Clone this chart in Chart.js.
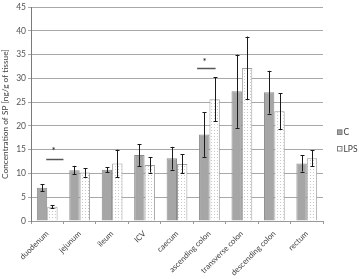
<!DOCTYPE html>
<html><head><meta charset="utf-8">
<script src="https://cdn.jsdelivr.net/npm/chart.js@4"></script>
<style>html,body{margin:0;padding:0;background:#fff;overflow:hidden}</style>
</head><body>
<canvas id="c" width="359" height="279"></canvas>
<script>
const categories = ['duodenum','jejunum','ileum','ICV','caecum','ascending colon','transverse colon','descending colon','rectum'];
const seriesC = [7.0, 10.7, 10.8, 13.9, 13.2, 18.2, 27.3, 27.1, 12.1];
const errorC = [0.7, 0.9, 0.5, 2.3, 2.4, 4.7, 7.7, 4.5, 1.7];
const seriesLPS = [3.0, 10.2, 12.1, 11.8, 12.0, 25.6, 32.2, 23.1, 13.2];
const errorLPS = [0.3, 0.9, 2.9, 1.6, 2.0, 4.6, 6.6, 3.8, 1.7];
const yTicks = [0, 5, 10, 15, 20, 25, 30, 35, 40, 45];
const significance = [
  {category: 'duodenum', lineValue: 13.0, starValue: 15.2, from: -0.03, to: 0.5, starAt: 0.2},
  {category: 'ascending colon', lineValue: 32.1, starValue: 34.0, from: -0.38, to: 0.19, starAt: -0.15}
];

function dotPattern() {
  const p = document.createElement('canvas');
  p.width = 3; p.height = 3;
  const g = p.getContext('2d');
  g.fillStyle = '#ffffff'; g.fillRect(0, 0, 3, 3);
  g.fillStyle = '#c8c8c8'; g.fillRect(1, 1, 1, 1);
  return g.createPattern(p, 'repeat');
}

const errorBarPlugin = {
  id: 'errorBars',
  afterDatasetsDraw(chart) {
    const ctx = chart.ctx, ys = chart.scales.y;
    const errs = [errorC, errorLPS];
    chart.data.datasets.forEach((ds, di) => {
      const meta = chart.getDatasetMeta(di);
      meta.data.forEach((el, i) => {
        const v = ds.data[i], e = errs[di][i];
        const yt = ys.getPixelForValue(v + e), yb = ys.getPixelForValue(v - e);
        const x = Math.round(el.x) + 0.5;
        ctx.save();
        ctx.strokeStyle = '#1a1a1a'; ctx.lineWidth = 1;
        ctx.beginPath();
        ctx.moveTo(x, yt); ctx.lineTo(x, yb);
        ctx.moveTo(x - 2, Math.round(yt) + 0.5); ctx.lineTo(x + 2, Math.round(yt) + 0.5);
        ctx.moveTo(x - 2, Math.round(yb) + 0.5); ctx.lineTo(x + 2, Math.round(yb) + 0.5);
        ctx.stroke();
        ctx.restore();
      });
    });
  }
};

const sigPlugin = {
  id: 'sig',
  afterDatasetsDraw(chart) {
    const ctx = chart.ctx, xs = chart.scales.x, ys = chart.scales.y;
    const cw = (xs.right - xs.left) / categories.length;
    significance.forEach(s => {
      const idx = categories.indexOf(s.category);
      const cx = xs.getPixelForValue(idx);
      const yl = Math.round(ys.getPixelForValue(s.lineValue)) + 0.5;
      ctx.save();
      ctx.strokeStyle = '#555'; ctx.lineWidth = 1.5;
      ctx.beginPath();
      ctx.moveTo(cx + s.from * cw, yl); ctx.lineTo(cx + s.to * cw, yl);
      ctx.stroke();
      ctx.fillStyle = '#222';
      ctx.font = '10px Lato';
      ctx.textAlign = 'center'; ctx.textBaseline = 'middle';
      ctx.fillText('*', cx + s.starAt * cw, ys.getPixelForValue(s.starValue) + 2);
      ctx.restore();
    });
  }
};

const legendPlugin = {
  id: 'sideLegend',
  afterDraw(chart) {
    const ctx = chart.ctx;
    const x0 = chart.width - 22;
    chart.data.datasets.forEach((ds, i) => {
      const y = 132 + i * 16.5;
      ctx.save();
      ctx.fillStyle = ds.backgroundColor;
      ctx.fillRect(x0, y - 2.5, 5, 5);
      ctx.strokeStyle = '#808080'; ctx.lineWidth = 1;
      ctx.strokeRect(x0 + 0.5, y - 2.5 + 0.5, 4.5, 4.5);
      ctx.fillStyle = '#404040';
      ctx.font = '8.5px Lato';
      ctx.textAlign = 'left'; ctx.textBaseline = 'middle';
      ctx.fillText(ds.label, x0 + 6.5, y + 0.5);
      ctx.restore();
    });
  }
};

new Chart(document.getElementById('c'), {
  type: 'bar',
  data: {
    labels: categories,
    datasets: [
      {label: 'C', data: seriesC, backgroundColor: '#a6a6a6', borderColor: '#8a8a8a', borderWidth: 1},
      {label: 'LPS', data: seriesLPS, backgroundColor: dotPattern(), borderColor: '#a0a0a0', borderWidth: 1}
    ]
  },
  options: {
    responsive: false,
    animation: false,
    layout: {padding: {top: 3, right: 36, left: 0, bottom: 0}},
    datasets: {bar: {categoryPercentage: 0.64, barPercentage: 1.0}},
    plugins: {
      legend: {display: false},
      tooltip: {enabled: false}
    },
    scales: {
      x: {
        grid: {display: true, offset: true, drawOnChartArea: false, tickLength: 3, color: '#9a9a9a'},
        border: {color: '#9a9a9a'},
        ticks: {minRotation: 45, maxRotation: 45, color: '#404040', font: {family: 'Lato', size: 7.8}, padding: 5},
        afterFit(s) { s.height = 58; }
      },
      y: {
        min: 0, max: 45,
        afterBuildTicks(s) { s.ticks = yTicks.map(v => ({value: v})); },
        grid: {color: '#a8a8a8', tickLength: 3},
        border: {color: '#7a7a7a'},
        ticks: {color: '#555', font: {family: 'Lato', size: 8.5}, padding: 2},
        title: {display: true, text: 'Concentration of SP [ng/g of tissue]', color: '#404040', font: {family: 'Lato', size: 8.3}, padding: 0},
        afterFit(s) { s.width = 31; }
      }
    }
  },
  plugins: [errorBarPlugin, sigPlugin, legendPlugin]
});
</script>
</body></html>
